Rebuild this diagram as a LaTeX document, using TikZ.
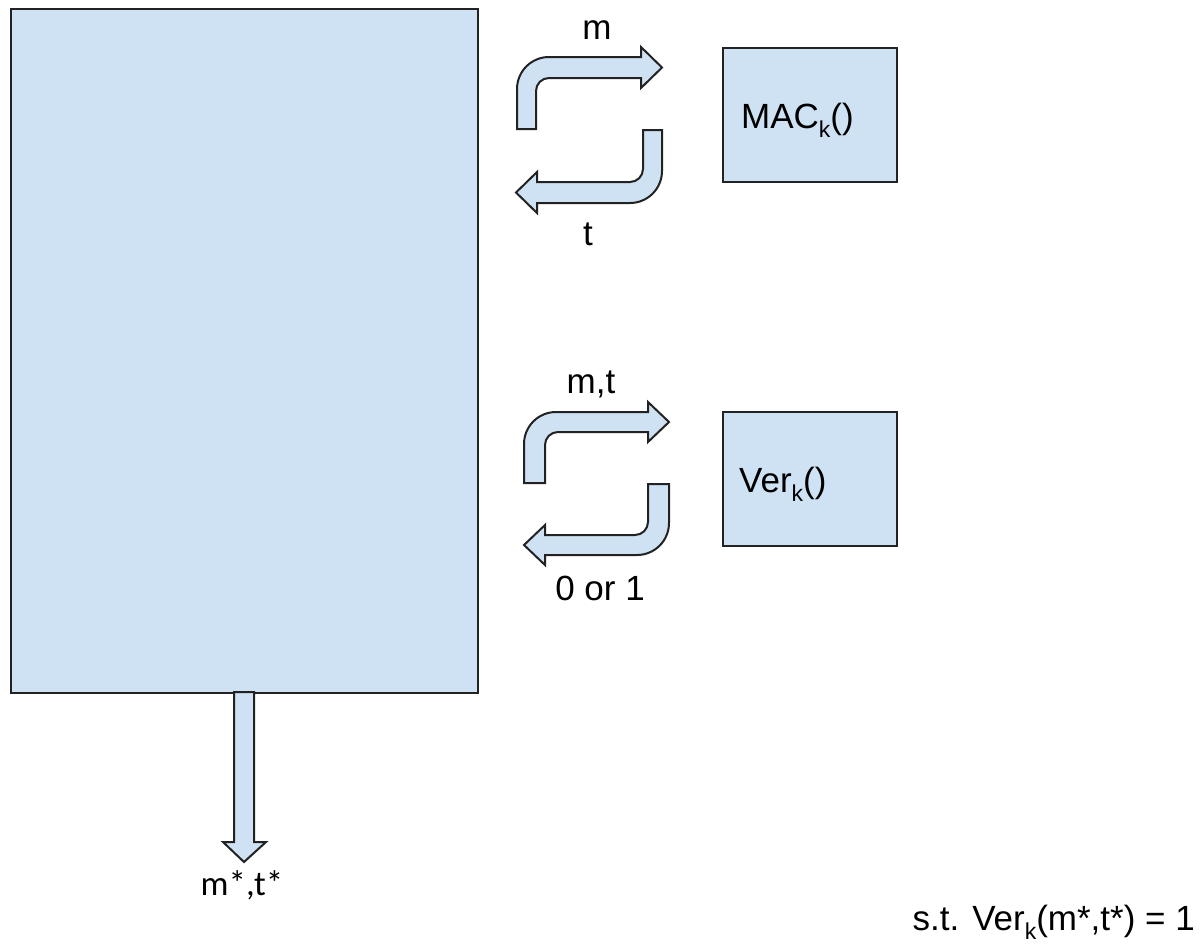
\documentclass[tikz,border=0pt]{standalone}
\usepackage{fontspec}
\setmainfont{Liberation Sans}
\newfontfamily\calibrifont{Carlito}
\definecolor{boxblue}{HTML}{CFE2F3}
\definecolor{edge}{HTML}{222222}
\newcommand{\ksub}{\raisebox{-9pt}{\fontsize{23}{26}\selectfont k}}
\begin{document}
\begin{tikzpicture}[x=1pt,y=-1pt,
  blueshape/.style={draw=edge,fill=boxblue,line width=2pt,line join=miter},
  lbl/.style={inner sep=0pt,anchor=base,font=\fontsize{35}{40}\selectfont}]
\useasboundingbox (0,0) rectangle (1204,943);
% main boxes
\node[blueshape,minimum width=467pt,minimum height=684pt,inner sep=0pt,anchor=north west] (adv) at (10,8) {};
\node[blueshape,minimum width=174pt,minimum height=134pt,inner sep=0pt,anchor=north west] (mac) at (722,47) {};
\node[blueshape,minimum width=174pt,minimum height=134pt,inner sep=0pt,anchor=north west] (ver) at (722,411) {};
\node[lbl,anchor=base west] (macl) at (741,128) {MAC\ksub()};
\node[lbl,anchor=base west] (verl) at (739,492) {Ver\ksub()};
% upper out arrow (m)
\path[blueshape] (517,129) -- (517,89) arc[start angle=180,end angle=270,radius=32] -- (641,57) -- (641,47) -- (662,67.5) -- (641,88) -- (641,78) -- (549,78) arc[start angle=270,end angle=180,radius=13] -- (536,129) -- cycle;
% upper back arrow (t)
\path[blueshape] (643,130) -- (662,130) -- (662,171) arc[start angle=0,end angle=90,radius=32] -- (537,203) -- (537,213) -- (516,192.5) -- (537,172) -- (537,182) -- (630,182) arc[start angle=90,end angle=0,radius=13] -- cycle;
% lower out arrow (m,t)
\path[blueshape] (524,483) -- (524,444) arc[start angle=180,end angle=270,radius=32] -- (648,412) -- (648,402) -- (669,422) -- (648,442) -- (648,432) -- (558,432) arc[start angle=270,end angle=180,radius=13] -- (545,483) -- cycle;
% lower back arrow (0 or 1)
\path[blueshape] (648,484) -- (669,484) -- (669,523) arc[start angle=0,end angle=90,radius=32] -- (545,555) -- (545,565) -- (524,545) -- (545,525) -- (545,535) -- (635,535) arc[start angle=90,end angle=0,radius=13] -- cycle;
% output arrow
\path[blueshape] (234,692) -- (254,692) -- (254,842) -- (266,842) -- (244,862) -- (223,842) -- (234,842) -- cycle;
% labels
\node[lbl] (lm) at (597,39) {m};
\node[lbl] (lt) at (588,245) {t};
\node[lbl] (lmt) at (591,393) {m,t};
\node[lbl] (l01) at (600,600) {0 or 1};
\node[lbl,font=\fontsize{35}{40}\calibrifont] (lout) at (242,895) {m*,t*};
\node[lbl,anchor=base east] (st) at (1195,930) {s.t. Ver\ksub(m*,t*) = 1};
\end{tikzpicture}
\end{document}
